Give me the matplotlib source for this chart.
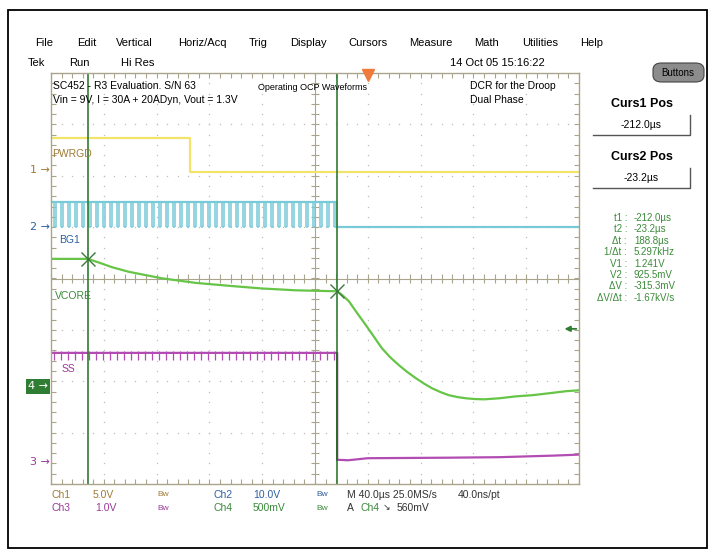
import numpy as np
import matplotlib.pyplot as plt
from matplotlib.patches import FancyBboxPatch, Rectangle
from matplotlib.lines import Line2D

plt.rcParams['font.family'] = ['Liberation Sans', 'DejaVu Sans']

W, H = 715, 557

# time base: 10 div x 40 us, trigger at 0
t_left = -240.0
us_per_div = 40.0
t_right = t_left + 10 * us_per_div

# cursors (us)
curs1_t = -212.0
curs2_t = -23.2
curs_v1 = 1.241
curs_v2 = 0.9255

# Ch1 PWRGD, 5 V/div
ch1_pos, ch1_scale = 2.113, 5.0
pwrgd_t = [-240.0, -134.7, -134.7, 160.0]
pwrgd_v = [3.1, 3.1, -0.2, -0.2]

# Ch2 BG1 gate drive, 10 V/div
ch2_pos, ch2_scale = 1.004, 10.0
bg1_first_fall = -237.5
bg1_period = 5.3
bg1_low_time = 1.3
bg1_high_v = 4.9
bg1_low_v = 0.0

# Ch3 SS, 1 V/div
ch3_pos, ch3_scale = -3.568, 1.0
ss_t = [-240.0, -23.2, -23.2, -15.0, 0.0, 60.0, 100.0, 140.0, 160.0]
ss_v = [2.12, 2.12, 0.04, 0.03, 0.07, 0.08, 0.09, 0.12, 0.14]
ss_glitch = 0.13

# Ch4 VCORE, 500 mV/div
ch4_pos, ch4_scale = -2.10, 0.5
vcore_t = [-240.0, -212.0, -203.0, -193.8, -181.0, -156.0, -130.2, -105.2, -80.2,
           -54.4, -23.2, -19.0, -14.3, -8.0, -1.4, 4.6, 10.7, 17.0, 23.6, 30.0,
           36.5, 42.5, 48.6, 55.0, 61.5, 68.0, 74.4, 81.0, 88.0, 99.4, 112.3,
           124.4, 137.2, 150.1, 160.0]
vcore_v = [1.241, 1.241, 1.202, 1.160, 1.115, 1.052, 1.007, 0.979, 0.953,
           0.935, 0.9255, 0.885, 0.828, 0.712, 0.595, 0.484, 0.371, 0.283, 0.206,
           0.139, 0.079, 0.028, -0.018, -0.055, -0.086, -0.104, -0.116, -0.123,
           -0.126, -0.116, -0.097, -0.086, -0.067, -0.047, -0.038]
trig_level = 0.56

menu_items = ['File', 'Edit', 'Vertical', 'Horiz/Acq', 'Trig', 'Display',
              'Cursors', 'Measure', 'Math', 'Utilities', 'Help']
menu_x = [35, 77, 116, 178, 249, 290, 348, 409, 474, 522, 580]

readout_labels = ['t1 :', 't2 :', 'Δt :', '1/Δt :', 'V1 :', 'V2 :', 'ΔV :', 'ΔV/Δt :']
readout_values = ['-212.0µs', '-23.2µs', '188.8µs', '5.297kHz', '1.241V',
                  '925.5mV', '-315.3mV', '-1.67kV/s']

c_ch1, c_ch1_txt = '#f2e46a', '#a07a34'
c_ch2, c_ch2_txt = '#78cad8', '#2f5f9f'
c_ch3, c_ch3_txt = '#b24cb2', '#9a3a9a'
c_ch4, c_ch4_txt = '#66c447', '#3a8a3a'
c_curs = '#2f7d32'
c_grat = '#aaa48c'


def to_div(v, pos, scale):
    return pos + np.asarray(v) / scale


def fx(x):
    return x / W


def fy(y):
    return 1 - y / H


fig = plt.figure(figsize=(W / 100, H / 100), dpi=100)
fig.patches.append(Rectangle((fx(8), fy(548)), fx(707) - fx(8), fy(10) - fy(548),
                             transform=fig.transFigure, fill=False,
                             edgecolor='black', lw=1.3))

ax = fig.add_axes([fx(51), fy(484), fx(579) - fx(51), fy(73) - fy(484)])
ax.set_xlim(t_left, t_right)
ax.set_ylim(-4, 4)
ax.set_xticks([])
ax.set_yticks([])
for s in ax.spines.values():
    s.set_color(c_grat)
    s.set_linewidth(1.0)

# graticule
t_center = t_left + 5 * us_per_div
minor_t = np.arange(t_left, t_right + 0.01, us_per_div / 5)
minor_y = np.arange(-4, 4.01, 0.2)
for k in range(1, 10):
    if k == 5:
        continue
    tk = t_left + k * us_per_div
    ax.plot(np.full(len(minor_y), tk)[1:-1], minor_y[1:-1], ls='none', marker='s',
            ms=0.9, color='#bdbdbd', mew=0)
for j in range(-3, 4):
    if j == 0:
        continue
    ax.plot(minor_t[1:-1], np.full(len(minor_t), j)[1:-1], ls='none', marker='s',
            ms=0.9, color='#bdbdbd', mew=0)
ax.axhline(0, color=c_grat, lw=0.8)
ax.axvline(t_center, color=c_grat, lw=0.8)
tick_y = 0.08
tick_t = 3.0
ax.vlines(minor_t, -tick_y, tick_y, color=c_grat, lw=0.8)
ax.hlines(minor_y, t_center - tick_t, t_center + tick_t, color=c_grat, lw=0.8)
ax.vlines(minor_t, 4 - 0.1, 4, color=c_grat, lw=0.8)
ax.vlines(minor_t, -4, -4 + 0.1, color=c_grat, lw=0.8)
ax.hlines(minor_y, t_left, t_left + 3.8, color=c_grat, lw=0.8)
ax.hlines(minor_y, t_right - 3.8, t_right, color=c_grat, lw=0.8)

# Ch1 PWRGD
ax.plot(pwrgd_t, to_div(pwrgd_v, ch1_pos, ch1_scale), color=c_ch1, lw=1.6)

# Ch2 BG1 switching
falls = np.arange(bg1_first_fall, curs2_t - bg1_low_time, bg1_period)
bg_hi = to_div(bg1_high_v, ch2_pos, ch2_scale)
bg_lo = to_div(bg1_low_v, ch2_pos, ch2_scale)
ax.hlines(bg_hi, t_left, curs2_t, color=c_ch2, lw=1.6)
ax.vlines(falls, bg_lo, bg_hi, color=c_ch2, lw=1.1)
ax.vlines(falls + bg1_low_time, bg_lo, bg_hi, color=c_ch2, lw=1.1)
ax.hlines(np.full(len(falls), bg_lo), falls, falls + bg1_low_time, color=c_ch2, lw=1.1)
ax.vlines(curs2_t, bg_lo, bg_hi, color=c_ch2, lw=1.1)
ax.hlines(bg_lo, curs2_t, t_right, color=c_ch2, lw=1.6)

# Ch3 SS
ss_div = to_div(ss_v, ch3_pos, ch3_scale)
ax.plot(ss_t, ss_div, color=c_ch3, lw=1.6)
ax.vlines(falls, ss_div[0] - ss_glitch, ss_div[0] + 0.03, color=c_ch3, lw=0.9)
ax.plot([ss_t[1], ss_t[2]], [ss_div[1], ss_div[2]], color='black', lw=1.2)

# Ch4 VCORE
ax.plot(vcore_t, to_div(vcore_v, ch4_pos, ch4_scale), color=c_ch4, lw=1.6)

# cursors
ax.axvline(curs1_t, color=c_curs, lw=1.2)
ax.axvline(curs2_t, color=c_curs, lw=1.2)
ax.plot([curs1_t, curs2_t], to_div([curs_v1, curs_v2], ch4_pos, ch4_scale),
        ls='none', marker='x', ms=10, mew=1.0, color='#3c7a3c')

# trigger position and level
ax.plot([0], [3.96], marker='v', ms=8, color='#f07a3a', clip_on=False, zorder=5)
lvl = to_div(trig_level, ch4_pos, ch4_scale)
ax.annotate('', xy=(t_right - 11, lvl), xytext=(t_right - 2, lvl),
            arrowprops=dict(arrowstyle='-|>', color='#2f7d32', lw=1.3,
                            mutation_scale=8, shrinkA=0, shrinkB=0))

# channel ground markers
for num, pos, col in [('1', ch1_pos, c_ch1_txt), ('2', ch2_pos, c_ch2_txt),
                      ('3', ch3_pos, c_ch3_txt)]:
    ax.annotate(num + ' \u2192', xy=(t_left, pos), xytext=(-1, 0),
                textcoords='offset points', ha='right', va='center',
                fontsize=8, color=col, family=['DejaVu Sans'])
ax.annotate('4 \u2192', xy=(t_left, ch4_pos), xytext=(-2, 0), textcoords='offset points',
            ha='right', va='center', fontsize=8, color='white', family=['DejaVu Sans'],
            bbox=dict(boxstyle='square,pad=0.2', fc='#2e7d32', ec='none'))

# in-graticule labels
ax.text(t_left + 1, to_div(pwrgd_v[0], ch1_pos, ch1_scale) - 0.3, 'PWRGD',
        color=c_ch1_txt, fontsize=7.5, va='center')
ax.text(t_left + 6, bg_lo - 0.26, 'BG1', color=c_ch2_txt, fontsize=7.5, va='center')
ax.text(t_left + 3, -0.35, 'VCORE', color=c_ch4_txt, fontsize=7.5, va='center')
ax.text(t_left + 8, ss_div[0] - 0.32, 'SS', color=c_ch3_txt, fontsize=7.5, va='center')

# header texts inside the screen
fig.text(fx(53), fy(86), 'SC452 - R3 Evaluation. S/N 63', fontsize=7.5, va='center')
fig.text(fx(53), fy(100), 'Vin = 9V, I = 30A + 20ADyn, Vout = 1.3V', fontsize=7.5,
         va='center')
fig.text(fx(258), fy(88), 'Operating OCP Waveforms', fontsize=6.5, va='center')
fig.text(fx(470), fy(86), 'DCR for the Droop', fontsize=7.5, va='center')
fig.text(fx(470), fy(100), 'Dual Phase', fontsize=7.5, va='center')

# menu bar
for name, x in zip(menu_items, menu_x):
    fig.text(fx(x), fy(43), name, fontsize=8, va='center')
for name, x in [('Tek', 28), ('Run', 69), ('Hi Res', 121), ('14 Oct 05 15:16:22', 450)]:
    fig.text(fx(x), fy(63), name, fontsize=8, va='center')

# right panel
fig.patches.append(FancyBboxPatch((fx(653), fy(82)), fx(51), fy(63) - fy(82),
                                  boxstyle='round,pad=0,rounding_size=0.012',
                                  transform=fig.transFigure, fc='#8c8c8c',
                                  ec='#444444', lw=0.8))
fig.text(fx(678), fy(72.5), 'Buttons', fontsize=7, ha='center', va='center')
for title, val, ty in [('Curs1 Pos', '-212.0µs', 104), ('Curs2 Pos', '-23.2µs', 157)]:
    fig.text(fx(642), fy(ty), title, fontsize=9, fontweight='bold', ha='center',
             va='center')
    fig.text(fx(641), fy(ty + 21), val, fontsize=7.5, ha='center', va='center')
    fig.lines.append(Line2D([fx(593), fx(690), fx(690)],
                            [fy(ty + 31), fy(ty + 31), fy(ty + 11)],
                            transform=fig.transFigure, color='#555555', lw=1.0))

for i, (lab, val) in enumerate(zip(readout_labels, readout_values)):
    yy = 218 + 11.4 * i
    fig.text(fx(627), fy(yy), lab, fontsize=7, ha='right', va='center', color=c_ch4_txt)
    fig.text(fx(634), fy(yy), val, fontsize=7, ha='left', va='center', color=c_ch4_txt)

# bottom status lines
row1 = [('Ch1', 52, c_ch1_txt, 7.5), ('5.0V', 93, c_ch1_txt, 7.5),
        ('Bw', 157, c_ch1_txt, 6), ('Ch2', 213, c_ch2_txt, 7.5),
        ('10.0V', 253, c_ch2_txt, 7.5), ('Bw', 316, c_ch2_txt, 6),
        ('M 40.0µs 25.0MS/s', 347, '#333333', 7.5), ('40.0ns/pt', 458, '#333333', 7.5)]
row2 = [('Ch3', 52, c_ch3_txt, 7.5), ('1.0V', 95, c_ch3_txt, 7.5),
        ('Bw', 157, c_ch3_txt, 6), ('Ch4', 213, c_ch4_txt, 7.5),
        ('500mV', 253, c_ch4_txt, 7.5), ('Bw', 316, c_ch4_txt, 6),
        ('A', 347, '#333333', 7.5), ('Ch4', 360, c_ch4_txt, 7.5),
        ('↘', 383, '#333333', 6.5), ('560mV', 397, '#333333', 7.5)]
for row, yy in [(row1, 495), (row2, 508)]:
    for txt, x, col, fs in row:
        fig.text(fx(x), fy(yy), txt, fontsize=fs, color=col, va='center')

fig.savefig('out.png', dpi=100)
